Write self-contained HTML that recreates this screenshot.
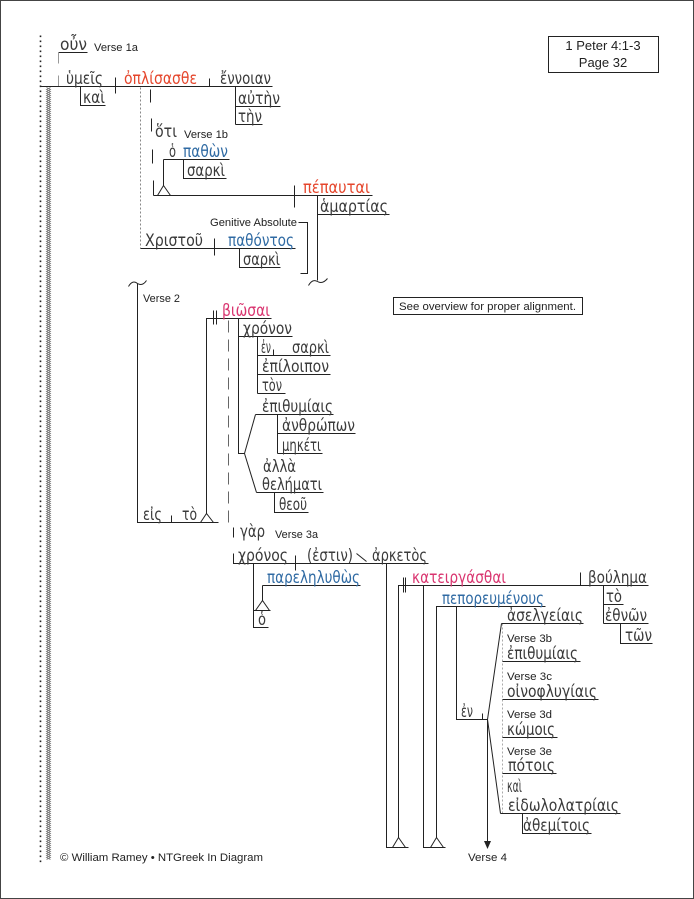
<!DOCTYPE html>
<html><head><meta charset="utf-8"><style>
html,body{margin:0;padding:0;background:#fff}
svg{display:block}
.g{font-family:"DejaVu Sans","Liberation Sans",sans-serif;font-size:16.5px;fill:#3a3a3a}
.l{font-family:"Liberation Sans",Arial,sans-serif;font-size:11px;fill:#222}
.r{fill:#e5462c}.b{fill:#2f6aa3}.p{fill:#d9346f}
</style></head><body>
<svg width="694" height="899" viewBox="0 0 694 899" xmlns="http://www.w3.org/2000/svg">
<rect x="0.5" y="0.5" width="693" height="898" fill="#fff" stroke="#444"/>
<g transform="translate(0.5,0.5)" fill="none" stroke="#222" stroke-width="1">
<!-- left rails -->
<path d="M40,35 V862" stroke="#222" stroke-width="1.6" stroke-dasharray="1.6 3.4"/>
<path d="M46,87 L50,89 L46,91 L50,93 L46,95 L50,97 L46,99 L50,101 L46,103 L50,105 L46,107 L50,109 L46,111 L50,113 L46,115 L50,117 L46,119 L50,121 L46,123 L50,125 L46,127 L50,129 L46,131 L50,133 L46,135 L50,137 L46,139 L50,141 L46,143 L50,145 L46,147 L50,149 L46,151 L50,153 L46,155 L50,157 L46,159 L50,161 L46,163 L50,165 L46,167 L50,169 L46,171 L50,173 L46,175 L50,177 L46,179 L50,181 L46,183 L50,185 L46,187 L50,189 L46,191 L50,193 L46,195 L50,197 L46,199 L50,201 L46,203 L50,205 L46,207 L50,209 L46,211 L50,213 L46,215 L50,217 L46,219 L50,221 L46,223 L50,225 L46,227 L50,229 L46,231 L50,233 L46,235 L50,237 L46,239 L50,241 L46,243 L50,245 L46,247 L50,249 L46,251 L50,253 L46,255 L50,257 L46,259 L50,261 L46,263 L50,265 L46,267 L50,269 L46,271 L50,273 L46,275 L50,277 L46,279 L50,281 L46,283 L50,285 L46,287 L50,289 L46,291 L50,293 L46,295 L50,297 L46,299 L50,301 L46,303 L50,305 L46,307 L50,309 L46,311 L50,313 L46,315 L50,317 L46,319 L50,321 L46,323 L50,325 L46,327 L50,329 L46,331 L50,333 L46,335 L50,337 L46,339 L50,341 L46,343 L50,345 L46,347 L50,349 L46,351 L50,353 L46,355 L50,357 L46,359 L50,361 L46,363 L50,365 L46,367 L50,369 L46,371 L50,373 L46,375 L50,377 L46,379 L50,381 L46,383 L50,385 L46,387 L50,389 L46,391 L50,393 L46,395 L50,397 L46,399 L50,401 L46,403 L50,405 L46,407 L50,409 L46,411 L50,413 L46,415 L50,417 L46,419 L50,421 L46,423 L50,425 L46,427 L50,429 L46,431 L50,433 L46,435 L50,437 L46,439 L50,441 L46,443 L50,445 L46,447 L50,449 L46,451 L50,453 L46,455 L50,457 L46,459 L50,461 L46,463 L50,465 L46,467 L50,469 L46,471 L50,473 L46,475 L50,477 L46,479 L50,481 L46,483 L50,485 L46,487 L50,489 L46,491 L50,493 L46,495 L50,497 L46,499 L50,501 L46,503 L50,505 L46,507 L50,509 L46,511 L50,513 L46,515 L50,517 L46,519 L50,521 L46,523 L50,525 L46,527 L50,529 L46,531 L50,533 L46,535 L50,537 L46,539 L50,541 L46,543 L50,545 L46,547 L50,549 L46,551 L50,553 L46,555 L50,557 L46,559 L50,561 L46,563 L50,565 L46,567 L50,569 L46,571 L50,573 L46,575 L50,577 L46,579 L50,581 L46,583 L50,585 L46,587 L50,589 L46,591 L50,593 L46,595 L50,597 L46,599 L50,601 L46,603 L50,605 L46,607 L50,609 L46,611 L50,613 L46,615 L50,617 L46,619 L50,621 L46,623 L50,625 L46,627 L50,629 L46,631 L50,633 L46,635 L50,637 L46,639 L50,641 L46,643 L50,645 L46,647 L50,649 L46,651 L50,653 L46,655 L50,657 L46,659 L50,661 L46,663 L50,665 L46,667 L50,669 L46,671 L50,673 L46,675 L50,677 L46,679 L50,681 L46,683 L50,685 L46,687 L50,689 L46,691 L50,693 L46,695 L50,697 L46,699 L50,701 L46,703 L50,705 L46,707 L50,709 L46,711 L50,713 L46,715 L50,717 L46,719 L50,721 L46,723 L50,725 L46,727 L50,729 L46,731 L50,733 L46,735 L50,737 L46,739 L50,741 L46,743 L50,745 L46,747 L50,749 L46,751 L50,753 L46,755 L50,757 L46,759 L50,761 L46,763 L50,765 L46,767 L50,769 L46,771 L50,773 L46,775 L50,777 L46,779 L50,781 L46,783 L50,785 L46,787 L50,789 L46,791 L50,793 L46,795 L50,797 L46,799 L50,801 L46,803 L50,805 L46,807 L50,809 L46,811 L50,813 L46,815 L50,817 L46,819 L50,821 L46,823 L50,825 L46,827 L50,829 L46,831 L50,833 L46,835 L50,837 L46,839 L50,841 L46,843 L50,845 L46,847 L50,849 L46,851 L50,853 L46,855 L50,857 L46,859" stroke="#777" stroke-width="0.8"/>
<path d="M50,87 L46,89 L50,91 L46,93 L50,95 L46,97 L50,99 L46,101 L50,103 L46,105 L50,107 L46,109 L50,111 L46,113 L50,115 L46,117 L50,119 L46,121 L50,123 L46,125 L50,127 L46,129 L50,131 L46,133 L50,135 L46,137 L50,139 L46,141 L50,143 L46,145 L50,147 L46,149 L50,151 L46,153 L50,155 L46,157 L50,159 L46,161 L50,163 L46,165 L50,167 L46,169 L50,171 L46,173 L50,175 L46,177 L50,179 L46,181 L50,183 L46,185 L50,187 L46,189 L50,191 L46,193 L50,195 L46,197 L50,199 L46,201 L50,203 L46,205 L50,207 L46,209 L50,211 L46,213 L50,215 L46,217 L50,219 L46,221 L50,223 L46,225 L50,227 L46,229 L50,231 L46,233 L50,235 L46,237 L50,239 L46,241 L50,243 L46,245 L50,247 L46,249 L50,251 L46,253 L50,255 L46,257 L50,259 L46,261 L50,263 L46,265 L50,267 L46,269 L50,271 L46,273 L50,275 L46,277 L50,279 L46,281 L50,283 L46,285 L50,287 L46,289 L50,291 L46,293 L50,295 L46,297 L50,299 L46,301 L50,303 L46,305 L50,307 L46,309 L50,311 L46,313 L50,315 L46,317 L50,319 L46,321 L50,323 L46,325 L50,327 L46,329 L50,331 L46,333 L50,335 L46,337 L50,339 L46,341 L50,343 L46,345 L50,347 L46,349 L50,351 L46,353 L50,355 L46,357 L50,359 L46,361 L50,363 L46,365 L50,367 L46,369 L50,371 L46,373 L50,375 L46,377 L50,379 L46,381 L50,383 L46,385 L50,387 L46,389 L50,391 L46,393 L50,395 L46,397 L50,399 L46,401 L50,403 L46,405 L50,407 L46,409 L50,411 L46,413 L50,415 L46,417 L50,419 L46,421 L50,423 L46,425 L50,427 L46,429 L50,431 L46,433 L50,435 L46,437 L50,439 L46,441 L50,443 L46,445 L50,447 L46,449 L50,451 L46,453 L50,455 L46,457 L50,459 L46,461 L50,463 L46,465 L50,467 L46,469 L50,471 L46,473 L50,475 L46,477 L50,479 L46,481 L50,483 L46,485 L50,487 L46,489 L50,491 L46,493 L50,495 L46,497 L50,499 L46,501 L50,503 L46,505 L50,507 L46,509 L50,511 L46,513 L50,515 L46,517 L50,519 L46,521 L50,523 L46,525 L50,527 L46,529 L50,531 L46,533 L50,535 L46,537 L50,539 L46,541 L50,543 L46,545 L50,547 L46,549 L50,551 L46,553 L50,555 L46,557 L50,559 L46,561 L50,563 L46,565 L50,567 L46,569 L50,571 L46,573 L50,575 L46,577 L50,579 L46,581 L50,583 L46,585 L50,587 L46,589 L50,591 L46,593 L50,595 L46,597 L50,599 L46,601 L50,603 L46,605 L50,607 L46,609 L50,611 L46,613 L50,615 L46,617 L50,619 L46,621 L50,623 L46,625 L50,627 L46,629 L50,631 L46,633 L50,635 L46,637 L50,639 L46,641 L50,643 L46,645 L50,647 L46,649 L50,651 L46,653 L50,655 L46,657 L50,659 L46,661 L50,663 L46,665 L50,667 L46,669 L50,671 L46,673 L50,675 L46,677 L50,679 L46,681 L50,683 L46,685 L50,687 L46,689 L50,691 L46,693 L50,695 L46,697 L50,699 L46,701 L50,703 L46,705 L50,707 L46,709 L50,711 L46,713 L50,715 L46,717 L50,719 L46,721 L50,723 L46,725 L50,727 L46,729 L50,731 L46,733 L50,735 L46,737 L50,739 L46,741 L50,743 L46,745 L50,747 L46,749 L50,751 L46,753 L50,755 L46,757 L50,759 L46,761 L50,763 L46,765 L50,767 L46,769 L50,771 L46,773 L50,775 L46,777 L50,779 L46,781 L50,783 L46,785 L50,787 L46,789 L50,791 L46,793 L50,795 L46,797 L50,799 L46,801 L50,803 L46,805 L50,807 L46,809 L50,811 L46,813 L50,815 L46,817 L50,819 L46,821 L50,823 L46,825 L50,827 L46,829 L50,831 L46,833 L50,835 L46,837 L50,839 L46,841 L50,843 L46,845 L50,847 L46,849 L50,851 L46,853 L50,855 L46,857 L50,859" stroke="#777" stroke-width="0.8"/>

<!-- verse 1a -->
<path d="M58,52 H87"/>
<path d="M58,52 V63 M58,75 V86" stroke="#999"/>
<path d="M40,86 H272"/>
<path d="M80,86 V105 H105"/>
<path d="M115,77 V93"/>
<path d="M209,78 V86"/>
<path d="M235,86 V124 M235,106 H280 M235,124 H262"/>
<!-- hoti connector -->
<path d="M150,89 V102 M151,118 V131 M152,149 V163 M153,180 V195"/>
<path d="M153,195 H372"/>
<path d="M163,159 H229 M163,159 V185"/>
<path d="M157,195 L163,185 L170,195"/>
<path d="M183,159 V178 H226"/>
<path d="M294,185 V207"/>
<path d="M317,195 V280 M317,214 H389"/>
<path d="M308,285 Q312,278 317,281 Q322,284 327,278"/>
<path d="M298,222 H307 V273 H300"/>
<path d="M140,87 V248" stroke="#888" stroke-dasharray="2 2"/>
<path d="M140,248 H295"/>
<path d="M214,238 V255"/>
<path d="M239,248 V267 H280"/>

<!-- verse 2 -->
<path d="M128,286 Q132,279 137,283 Q142,286 146,280"/>
<path d="M137,283 V522 H218"/>
<path d="M171,515 V522"/>
<path d="M200,522 L206,513 L213,522"/>
<path d="M206,513 V318 H271"/>
<path d="M213,310 V324 M216,310 V324"/>
<path d="M228,320 V528" stroke="#666" stroke-dasharray="12 7"/>
<path d="M238,318 V453 H244"/>
<path d="M238,336 H292"/>
<path d="M257,336 V393"/>
<path d="M257,355 H330 M273,349 V355"/>
<path d="M257,374 H330"/>
<path d="M257,393 H285"/>
<path d="M244,453 L255,414 M244,453 L256,492"/>
<path d="M255,414 H333"/>
<path d="M277,414 V453 M277,433 H355 M277,453 H322"/>
<path d="M256,492 H323"/>
<path d="M274,492 V512 H308"/>

<!-- verse 3 -->
<path d="M233,527 V537"/>
<path d="M233,553 V563 H428"/>
<path d="M295,555 V570"/>
<path d="M356,553 L366,561"/>
<path d="M253,563 V627 H268"/>
<path d="M262,585 H360 M262,585 V600"/>
<path d="M253,610 H270 M255,610 L262,600 L269,610"/>
<path d="M386,563 V847 H408"/>
<path d="M392,847 L398,837 L405,847"/>
<path d="M398,837 V585 H648"/>
<path d="M403,577 V592 M405,577 V592"/>
<path d="M580,572 V585"/>
<path d="M423,585 V847 H445"/>
<path d="M430,847 L436,837 L443,847"/>
<path d="M436,837 V606 H545"/>
<path d="M456,606 V719 H487"/>
<path d="M482,713 V719"/>
<path d="M487,719 V842"/>
<path d="M487,719 L501,623 M487,719 L500,813"/>
<path d="M502,623 V813" stroke="#aaa" stroke-dasharray="2 2"/>
<path d="M501,623 H583"/>
<path d="M502,661 H580"/>
<path d="M502,699 H598"/>
<path d="M502,737 H557"/>
<path d="M502,773 H556"/>
<path d="M500,813 H620"/>
<path d="M522,813 V833 H591"/>
<path d="M603,585 V623 M603,604 H623 M603,623 H648"/>
<path d="M620,623 V643 H652"/>
</g>
<path d="M484,841 L487.5,849 L491,841 Z" fill="#222"/>

<!-- boxes -->
<rect x="548.5" y="36.5" width="110" height="36" fill="none" stroke="#222"/>
<text x="603" y="50" text-anchor="middle" font-family="Liberation Sans, Arial, sans-serif" font-size="13" fill="#222">1 Peter 4:1-3</text>
<text x="603" y="67" text-anchor="middle" font-family="Liberation Sans, Arial, sans-serif" font-size="13" fill="#222">Page 32</text>
<rect x="393.5" y="297.5" width="189" height="17" fill="none" stroke="#222"/>
<text class="l" x="399" y="310" textLength="177" lengthAdjust="spacingAndGlyphs">See overview for proper alignment.</text>

<!-- labels -->
<text class="l" x="94" y="51" textLength="44" lengthAdjust="spacingAndGlyphs">Verse 1a</text>
<text class="l" x="184" y="138" textLength="44" lengthAdjust="spacingAndGlyphs">Verse 1b</text>
<text class="l" x="210" y="226" textLength="87" lengthAdjust="spacingAndGlyphs">Genitive Absolute</text>
<text class="l" x="143" y="302" textLength="37" lengthAdjust="spacingAndGlyphs">Verse 2</text>
<text class="l" x="275" y="538" textLength="43" lengthAdjust="spacingAndGlyphs">Verse 3a</text>
<text class="l" x="507" y="642" textLength="45" lengthAdjust="spacingAndGlyphs">Verse 3b</text>
<text class="l" x="507" y="680" textLength="45" lengthAdjust="spacingAndGlyphs">Verse 3c</text>
<text class="l" x="507" y="718" textLength="45" lengthAdjust="spacingAndGlyphs">Verse 3d</text>
<text class="l" x="507" y="755" textLength="45" lengthAdjust="spacingAndGlyphs">Verse 3e</text>
<text class="l" x="468" y="861" textLength="39" lengthAdjust="spacingAndGlyphs">Verse 4</text>
<text class="l" x="60" y="861" font-size="12" textLength="203" lengthAdjust="spacingAndGlyphs">© William Ramey • NTGreek In Diagram</text>

<!-- greek -->
<g class="g">
<text x="60" y="50" textLength="27" lengthAdjust="spacingAndGlyphs">οὖν</text>
<text x="66" y="84" textLength="37" lengthAdjust="spacingAndGlyphs">ὑμεῖς</text>
<text x="83" y="103" textLength="22" lengthAdjust="spacingAndGlyphs">καὶ</text>
<text class="r" x="124" y="84" textLength="73" lengthAdjust="spacingAndGlyphs">ὀπλίσασθε</text>
<text x="220" y="84" textLength="51" lengthAdjust="spacingAndGlyphs">ἔννοιαν</text>
<text x="238" y="104" textLength="42" lengthAdjust="spacingAndGlyphs">αὐτὴν</text>
<text x="238" y="122" textLength="24" lengthAdjust="spacingAndGlyphs">τὴν</text>
<text x="155" y="137" textLength="22" lengthAdjust="spacingAndGlyphs">ὅτι</text>
<text x="169" y="157" textLength="7" lengthAdjust="spacingAndGlyphs">ὁ</text>
<text class="b" x="183" y="157" textLength="45" lengthAdjust="spacingAndGlyphs">παθὼν</text>
<text x="187" y="176" textLength="38" lengthAdjust="spacingAndGlyphs">σαρκὶ</text>
<text class="r" x="303" y="193" textLength="67" lengthAdjust="spacingAndGlyphs">πέπαυται</text>
<text x="320" y="212" textLength="68" lengthAdjust="spacingAndGlyphs">ἁμαρτίας</text>
<text x="145" y="246" textLength="58" lengthAdjust="spacingAndGlyphs">Χριστοῦ</text>
<text class="b" x="228" y="246" textLength="66" lengthAdjust="spacingAndGlyphs">παθόντος</text>
<text x="243" y="265" textLength="37" lengthAdjust="spacingAndGlyphs">σαρκὶ</text>

<text class="p" x="222" y="316" textLength="48" lengthAdjust="spacingAndGlyphs">βιῶσαι</text>
<text x="243" y="334" textLength="49" lengthAdjust="spacingAndGlyphs">χρόνον</text>
<text x="261" y="353" textLength="10" lengthAdjust="spacingAndGlyphs">ἐν</text>
<text x="292" y="353" textLength="37" lengthAdjust="spacingAndGlyphs">σαρκὶ</text>
<text x="262" y="372" textLength="67" lengthAdjust="spacingAndGlyphs">ἐπίλοιπον</text>
<text x="262" y="391" textLength="20" lengthAdjust="spacingAndGlyphs">τὸν</text>
<text x="262" y="412" textLength="71" lengthAdjust="spacingAndGlyphs">ἐπιθυμίαις</text>
<text x="282" y="431" textLength="73" lengthAdjust="spacingAndGlyphs">ἀνθρώπων</text>
<text x="282" y="451" textLength="39" lengthAdjust="spacingAndGlyphs">μηκέτι</text>
<text x="263" y="472" textLength="33" lengthAdjust="spacingAndGlyphs">ἀλλὰ</text>
<text x="262" y="490" textLength="60" lengthAdjust="spacingAndGlyphs">θελήματι</text>
<text x="279" y="510" textLength="28" lengthAdjust="spacingAndGlyphs">θεοῦ</text>
<text x="143" y="520" textLength="19" lengthAdjust="spacingAndGlyphs">εἰς</text>
<text x="182" y="520" textLength="15" lengthAdjust="spacingAndGlyphs">τὸ</text>

<text x="240" y="537" textLength="25" lengthAdjust="spacingAndGlyphs">γὰρ</text>
<text x="238" y="561" textLength="50" lengthAdjust="spacingAndGlyphs">χρόνος</text>
<text x="307" y="561" textLength="46" lengthAdjust="spacingAndGlyphs">(ἐστιν)</text>
<text x="372" y="561" textLength="55" lengthAdjust="spacingAndGlyphs">ἀρκετὸς</text>
<text class="b" x="267" y="583" textLength="93" lengthAdjust="spacingAndGlyphs">παρεληλυθὼς</text>
<text x="258" y="625" textLength="8" lengthAdjust="spacingAndGlyphs">ὁ</text>
<text class="p" x="412" y="583" textLength="94" lengthAdjust="spacingAndGlyphs">κατειργάσθαι</text>
<text x="588" y="583" textLength="59" lengthAdjust="spacingAndGlyphs">βούλημα</text>
<text x="606" y="602" textLength="16" lengthAdjust="spacingAndGlyphs">τὸ</text>
<text x="605" y="621" textLength="42" lengthAdjust="spacingAndGlyphs">ἐθνῶν</text>
<text x="625" y="641" textLength="27" lengthAdjust="spacingAndGlyphs">τῶν</text>
<text class="b" x="442" y="604" textLength="102" lengthAdjust="spacingAndGlyphs">πεπορευμένους</text>
<text x="461" y="717" textLength="12" lengthAdjust="spacingAndGlyphs">ἐν</text>
<text x="507" y="621" textLength="76" lengthAdjust="spacingAndGlyphs">ἀσελγείαις</text>
<text x="507" y="659" textLength="71" lengthAdjust="spacingAndGlyphs">ἐπιθυμίαις</text>
<text x="507" y="697" textLength="90" lengthAdjust="spacingAndGlyphs">οἰνοφλυγίαις</text>
<text x="507" y="735" textLength="48" lengthAdjust="spacingAndGlyphs">κώμοις</text>
<text x="508" y="771" textLength="47" lengthAdjust="spacingAndGlyphs">πότοις</text>
<text x="507" y="792" textLength="15" lengthAdjust="spacingAndGlyphs">καὶ</text>
<text x="508" y="811" textLength="111" lengthAdjust="spacingAndGlyphs">εἰδωλολατρίαις</text>
<text x="523" y="831" textLength="67" lengthAdjust="spacingAndGlyphs">ἀθεμίτοις</text>
</g>
</svg>
</body></html>
